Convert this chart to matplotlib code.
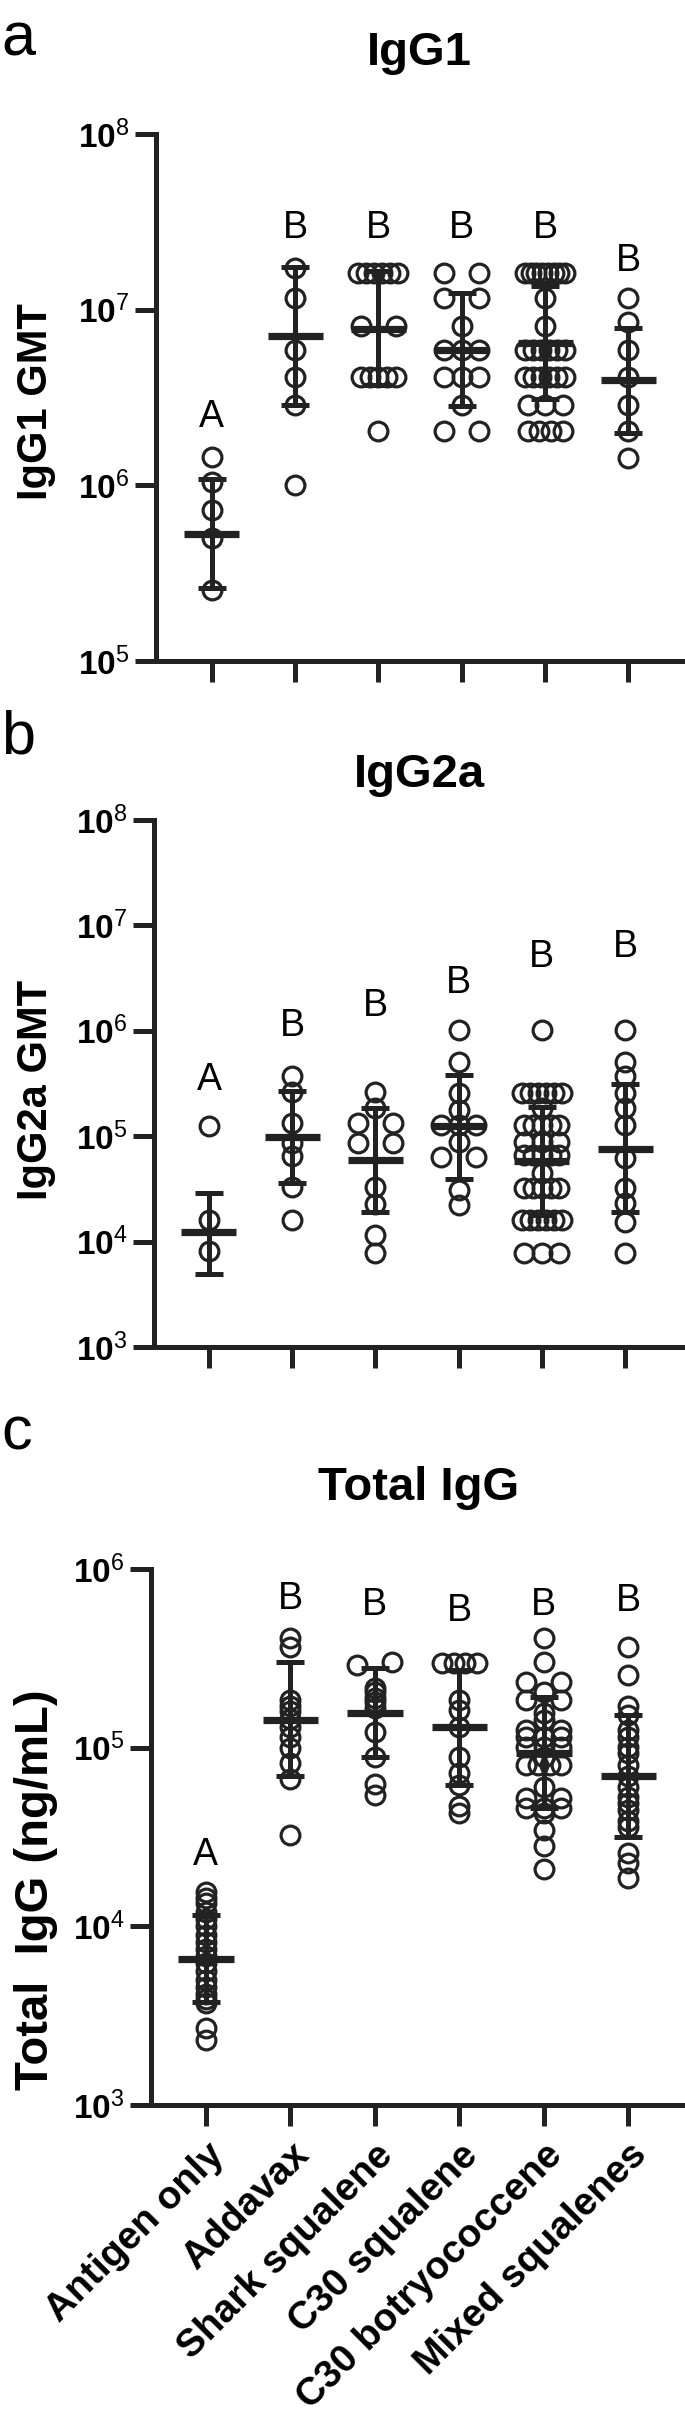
import numpy as np
import matplotlib
matplotlib.use("Agg")
import matplotlib.pyplot as plt
from matplotlib.ticker import NullLocator

plt.rcParams['font.family'] = ['Liberation Sans', 'DejaVu Sans']
plt.rcParams['mathtext.fontset'] = 'custom'
plt.rcParams['mathtext.rm'] = 'Liberation Sans'
plt.rcParams['mathtext.bf'] = 'Liberation Sans:bold'
plt.rcParams['mathtext.it'] = 'Liberation Sans:italic'

groups = ["Antigen only", "Addavax", "Shark squalene", "C30 squalene",
          "C30 botryococcene", "Mixed squalenes"]

# ---- a: IgG1 GMT ----
igg1_points = [
    [1.45e6, 1.05e6, 7.2e5, 5.0e5, 2.55e5],
    [1.73e7, 1.16e7, 5.86e6, 4.12e6, 2.85e6, 1.01e6],
    [1.61e7] * 6 + [8.1e6] * 2 + [4.12e6] * 5 + [2.04e6],
    [1.61e7] * 2 + [1.16e7] * 2 + [8.1e6] + [5.86e6] * 3 + [4.12e6] * 3 + [2.85e6] + [2.04e6] * 2,
    [1.61e7] * 8 + [1.16e7] + [8.1e6] + [5.86e6] * 6 + [4.12e6] * 6 + [2.85e6] * 3 + [2.04e6] * 4,
    [1.16e7, 8.5e6, 5.86e6, 4.12e6, 2.85e6, 2.04e6, 1.44e6],
]
igg1_mean = [5.3e5, 7.1e6, 7.76e6, 5.86e6, 6.5e6, 3.96e6]
igg1_lo = [2.6e5, 2.85e6, 3.73e6, 2.82e6, 3.11e6, 1.99e6]
igg1_hi = [1.09e6, 1.76e7, 1.66e7, 1.25e7, 1.37e7, 7.9e6]
igg1_letters = ["A", "B", "B", "B", "B", "B"]
igg1_letter_y = [2.44e6, 2.9e7, 2.9e7, 2.9e7, 2.9e7, 1.89e7]

# ---- b: IgG2a GMT ----
igg2a_points = [
    [1.26e5, 1.6e4, 8.1e3],
    [3.7e5, 2.6e5, 1.34e5, 8.6e4, 6.5e4, 3.3e4, 1.6e4],
    [2.6e5, 1.87e5, 1.34e5, 1.34e5, 8.6e4, 8.6e4, 3.3e4, 2.25e4, 1.16e4, 7.8e3],
    [1.02e6, 5.1e5, 2.57e5, 1.78e5, 1.28e5, 1.28e5, 1.28e5, 8.9e4, 6.4e4, 6.4e4, 3.1e4, 2.24e4],
    [1.02e6] + [2.57e5] * 6 + [1.84e5] + [1.28e5] * 5 + [8.9e4] * 3 + [6.7e4] * 5
    + [4.5e4] + [3.2e4] * 5 + [1.62e4] * 6 + [7.8e3] * 3,
    [1.02e6, 5.1e5, 3.7e5, 2.57e5, 1.84e5, 1.28e5, 6.2e4, 3.2e4, 2.33e4, 1.55e4, 7.8e3],
]
igg2a_mean = [1.22e4, 9.8e4, 5.9e4, 1.24e5, 5.8e4, 7.6e4]
igg2a_lo = [4.9e3, 3.6e4, 1.9e4, 3.96e4, 1.8e4, 1.9e4]
igg2a_hi = [2.9e4, 2.66e5, 1.87e5, 3.77e5, 1.9e5, 3.1e5]
igg2a_letters = ["A", "B", "B", "B", "B", "B"]
igg2a_letter_y = [3.4e5, 1.1e6, 1.73e6, 2.85e6, 4.97e6, 6.2e6]

# ---- c: Total IgG (ng/mL) ----
total_points = [
    [1.56e4, 1.45e4, 1.35e4, 1.2e4, 1.1e4, 1.0e4, 9.0e3, 8.2e3, 7.5e3, 6.8e3,
     6.2e3, 5.6e3, 5.0e3, 4.6e3, 4.2e3, 3.9e3, 3.7e3, 2.7e3, 2.3e3],
    [4.1e5, 3.67e5, 1.85e5, 1.7e5, 1.6e5, 1.45e5, 1.3e5, 1.15e5, 1.0e5, 8.2e4, 6.7e4, 3.24e4],
    [3.03e5, 2.9e5, 2.15e5, 2.05e5, 1.89e5, 1.8e5, 1.66e5, 1.23e5, 8.9e4, 6.3e4, 5.4e4],
    [2.98e5] * 4 + [1.85e5, 1.63e5, 1.31e5, 8.9e4, 7.2e4, 6.2e4, 4.7e4, 4.3e4],
    [4.09e5, 3.03e5, 2.34e5, 2.34e5, 2.06e5, 1.85e5, 1.85e5, 1.56e5, 1.43e5, 1.26e5,
     1.26e5, 1.15e5, 1.15e5, 1.15e5, 1.01e5, 1.01e5, 1.01e5, 8.9e4, 8.0e4, 8.0e4,
     8.0e4, 8.0e4, 6.05e4, 5.2e4, 5.2e4, 4.6e4, 4.6e4, 4.6e4, 4.3e4, 3.47e4, 2.8e4, 2.1e4],
    [3.67e5, 2.55e5, 1.7e5, 1.52e5, 1.26e5, 1.15e5, 1.01e5, 9.3e4, 8.0e4, 6.9e4,
     6.05e4, 5.3e4, 4.9e4, 4.5e4, 3.9e4, 3.6e4, 2.56e4, 2.25e4, 1.86e4],
]
total_mean = [6.55e3, 1.43e5, 1.56e5, 1.3e5, 9.3e4, 6.95e4]
total_lo = [3.79e3, 6.9e4, 8.9e4, 6.2e4, 4.6e4, 3.18e4]
total_hi = [1.16e4, 3.02e5, 2.78e5, 2.72e5, 1.93e5, 1.52e5]
total_letters = ["A", "B", "B", "B", "B", "B"]
total_letter_y = [2.5e4, 6.8e5, 6.3e5, 5.8e5, 6.3e5, 6.6e5]

INK = "#222222"
W, H = 685, 2435
fig = plt.figure(figsize=(W / 100, H / 100), dpi=100)


def rect(left, top, right, bottom):
    return [left / W, 1 - bottom / H, (right - left) / W, (bottom - top) / H]


def spread(ax, xc, vals, tol=3.5):
    # prism-like: points sitting at (nearly) the same height are laid out in a row
    xy = ax.transData.transform(np.column_stack([np.full(len(vals), xc), vals]))
    ypix = xy[:, 1]
    ppu = ax.transData.transform([(1, vals[0])])[0, 0] - ax.transData.transform([(0, vals[0])])[0, 0]
    order = np.argsort(ypix)
    rows = []
    for i in order:
        if rows and abs(ypix[i] - ypix[rows[-1][0]]) < tol:
            rows[-1].append(i)
        else:
            rows.append([i])
    offs = np.zeros(len(vals))
    for r in rows:
        n = len(r)
        if n > 1:
            half = 17.5 if n <= 5 else 20
            offs[r] = np.linspace(-half, half, n)
    return offs / ppu


def draw_panel(ax, points, means, lo, hi, letters, letter_y, ylim, decades, xlim, labels):
    ax.set_yscale("log")
    ax.set_ylim(ylim)
    ax.set_xlim(xlim)
    for i, vals in enumerate(points):
        vals = np.array(vals)
        offs = spread(ax, i, vals)
        ax.plot(i + offs, vals, "o", ms=13.5, mfc="none", mec=INK, mew=2.3, zorder=2,
                clip_on=False)
        ax.errorbar(i, means[i], yerr=[[means[i] - lo[i]], [hi[i] - means[i]]], fmt="none",
                    ecolor=INK, elinewidth=3.6, capsize=10, capthick=3.6, zorder=3)
        ax.plot([i - 0.33, i + 0.33], [means[i], means[i]], color=INK, lw=5.2,
                solid_capstyle="butt", zorder=4)
        ax.text(i, letter_y[i], letters[i], ha="center", va="center", fontsize=27,
                color="black")
    for s in ["top", "right"]:
        ax.spines[s].set_visible(False)
    for s in ["left", "bottom"]:
        ax.spines[s].set_linewidth(3.6)
        ax.spines[s].set_color(INK)
    ax.set_yticks([10.0 ** k for k in decades])
    ax.set_yticklabels([r"$\mathbf{10}^{%d}$" % k for k in decades], fontsize=24)
    ax.yaxis.set_minor_locator(NullLocator())
    ax.set_xticks(range(len(points)))
    if labels:
        ax.set_xticklabels(labels, rotation=45, ha="right", va="top",
                           rotation_mode="anchor", fontsize=28, fontweight="bold")
    else:
        ax.set_xticklabels([""] * len(points))
    ax.tick_params(axis="both", length=15, width=3.6, color=INK, pad=4)
    ax.tick_params(axis="x", pad=8)
    ax.patch.set_alpha(0)


ax_a = fig.add_axes(rect(156, 134, 685, 661))
draw_panel(ax_a, igg1_points, igg1_mean, igg1_lo, igg1_hi, igg1_letters, igg1_letter_y,
           (1e5, 1e8), range(5, 9), (-0.67, 5.68), None)

ax_b = fig.add_axes(rect(154, 820, 685, 1347))
draw_panel(ax_b, igg2a_points, igg2a_mean, igg2a_lo, igg2a_hi, igg2a_letters, igg2a_letter_y,
           (1e3, 1e8), range(3, 9), (-0.66, 5.72), None)

ax_c = fig.add_axes(rect(151, 1569, 685, 2105))
draw_panel(ax_c, total_points, total_mean, total_lo, total_hi, total_letters, total_letter_y,
           (1e3, 1e6), range(3, 7), (-0.65, 5.67), groups)

# titles, panel letters and y labels
for txt, yb in [("IgG1", 65), ("IgG2a", 787), ("Total IgG", 1500)]:
    fig.text(419 / W, 1 - yb / H, txt, ha="center", va="baseline", fontsize=34,
             fontweight="bold")
for txt, yb in [("a", 56), ("b", 754), ("c", 1450)]:
    fig.text(1 / W, 1 - yb / H, txt, ha="left", va="baseline", fontsize=44)
for txt, yc, fs in [("IgG1 GMT", 402, 30), ("IgG2a GMT", 1090, 30),
                    ("Total  IgG (ng/mL)", 1890, 34)]:
    fig.text(36 / W, 1 - yc / H, txt, ha="center", va="center", rotation=90,
             fontsize=fs, fontweight="bold")

fig.savefig("out.png", dpi=100)
